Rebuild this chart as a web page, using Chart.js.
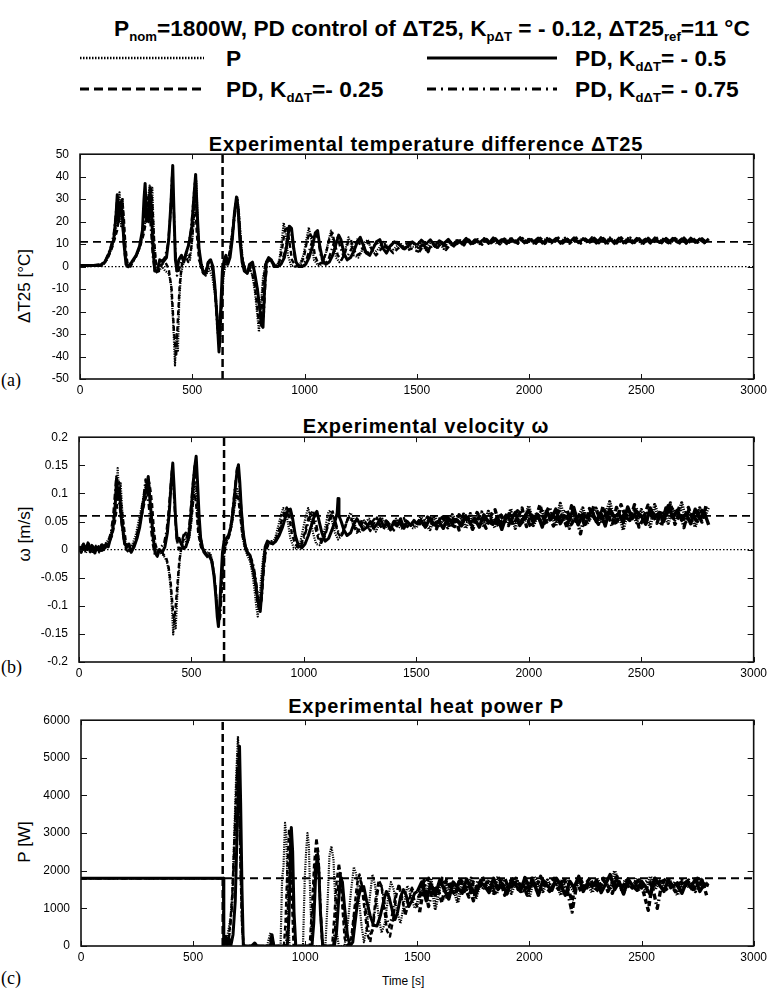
<!DOCTYPE html>
<html>
<head>
<meta charset="utf-8">
<script src="https://cdn.jsdelivr.net/npm/chart.js@4.4.1/dist/chart.umd.min.js"></script>
<style>
  body { margin: 0; background: #fff; width: 771px; height: 992px; overflow: hidden; position: relative; font-family: "Liberation Sans", Arial, sans-serif; color: #000; }
  canvas { position: absolute; left: 0; }
  .abs { position: absolute; white-space: nowrap; }
  .head { font-weight: bold; font-size: 22.7px; line-height: 26px; }
  .head sub { font-size: 58%; vertical-align: -5px; line-height: 0; }
  .ptitle { font-weight: bold; font-size: 20px; line-height: 20px; letter-spacing: 0.8px; left: 126px; width: 600px; text-align: center; }
  .ylab { font-size: 17px; transform: translate(-50%, -50%) rotate(-90deg); }
  .plab { font-family: "Liberation Serif", "Times New Roman", serif; font-size: 18px; }
</style>
</head>
<body>

<div class="abs head" style="left:114px; top:15px">P<sub>nom</sub>=1800W, PD control of ΔT25, K<sub>pΔT</sub> = - 0.12, ΔT25<sub>ref</sub>=11 °C</div>
<svg class="abs" style="left:80px; top:55px" width="124" height="6"><line x1="0" y1="3" x2="124" y2="3" stroke="#000" stroke-width="2.5" stroke-dasharray="1.5 1.5"/></svg>
<div class="abs head" style="left:226px; top:45px">P</div>
<svg class="abs" style="left:427px; top:55px" width="130" height="6"><line x1="0" y1="3" x2="130" y2="3" stroke="#000" stroke-width="3"/></svg>
<div class="abs head" style="left:575px; top:45px">PD, K<sub>dΔT</sub>= - 0.5</div>
<svg class="abs" style="left:80px; top:86px" width="124" height="6"><line x1="0" y1="3" x2="124" y2="3" stroke="#000" stroke-width="3" stroke-dasharray="9 5"/></svg>
<div class="abs head" style="left:226px; top:76px">PD, K<sub>dΔT</sub>=- 0.25</div>
<svg class="abs" style="left:427px; top:86px" width="130" height="6"><line x1="0" y1="3" x2="130" y2="3" stroke="#000" stroke-width="3" stroke-dasharray="9 5 2 5"/></svg>
<div class="abs head" style="left:575px; top:76px">PD, K<sub>dΔT</sub>= - 0.75</div>

<div class="abs ptitle" style="top:134px">Experimental temperature difference ΔT25</div>
<div class="abs ptitle" style="top:416px">Experimental velocity ω</div>
<div class="abs ptitle" style="top:696px">Experimental heat power P</div>

<div class="abs ylab" style="left:25px; top:286px">ΔT25 [°C]</div>
<div class="abs ylab" style="left:25px; top:534px">ω [m/s]</div>
<div class="abs ylab" style="left:25px; top:842px">P [W]</div>

<div class="abs plab" style="left:1px; top:370px">(a)</div>
<div class="abs plab" style="left:1px; top:657px">(b)</div>
<div class="abs plab" style="left:1px; top:968px">(c)</div>
<div class="abs" style="left:382px; top:974px; font-size:12px">Time [s]</div>

<canvas id="chartA" width="771" height="264" style="top:136px"></canvas>
<canvas id="chartB" width="771" height="264" style="top:419px"></canvas>
<canvas id="chartC" width="771" height="265" style="top:702px"></canvas>

<script>
// axes
const xTicks = [0, 500, 1000, 1500, 2000, 2500, 3000];
const aTicks = [-50, -40, -30, -20, -10, 0, 10, 20, 30, 40, 50];
const bTicks = [-0.2, -0.15, -0.1, -0.05, 0, 0.05, 0.1, 0.15, 0.2];
const cTicks = [0, 1000, 2000, 3000, 4000, 5000, 6000];

// reference lines
const aRef = 11, bRef = 0.06, cRef = 1800;
const aSwitch = 635, bSwitch = 645, cSwitch = 632;

// sample times of the settled part (two interleaved grids)
const noiseT = [1500,1520,1540,1560,1580,1600,1620,1640,1660,1680,
  1700,1720,1740,1760,1780,1800,1820,1840,1860,1880,
  1900,1920,1940,1960,1980,2000,2020,2040,2060,2080,
  2100,2120,2140,2160,2180,2200,2220,2240,2260,2280,
  2300,2320,2340,2360,2380,2400,2420,2440,2460,2480,
  2500,2520,2540,2560,2580,2600,2620,2640,2660,2680,
  2700,2720,2740,2760,2780,2800];
const noiseT2 = [1510,1530,1550,1570,1590,1610,1630,1650,1670,1690,
  1710,1730,1750,1770,1790,1810,1830,1850,1870,1890,
  1910,1930,1950,1970,1990,2010,2030,2050,2070,2090,
  2110,2130,2150,2170,2190,2210,2230,2250,2270,2290,
  2310,2330,2350,2370,2390,2410,2430,2450,2470,2490,
  2510,2530,2550,2570,2590,2610,2630,2650,2670,2690,
  2710,2730,2750,2770,2790];

// (a) temperature difference dT25 [°C]
const aP = [[0,0],[100,0.5],[120,3],[140,8],[158,15],[170,25],[176,33],[183,18],[190,30],[198,12],[208,2],[220,0],[240,3],[260,7],[280,14],[295,22],[303,30],[310,36],[316,20],[322,35],[330,10],[340,0],[352,-2],[365,0],[380,-2],[395,-3],[405,-8],[415,-25],[423,-44],[430,-30],[436,-38],[442,-15],[450,-3],[462,2],[475,6],[490,3],[500,12],[510,25],[518,38],[524,20],[532,5],[545,-2],[560,-4],[575,-1],[590,-5],[605,-15],[615,-30],[623,-36],[630,-20],[640,-3],[652,2],[665,5],[678,15],[690,26],[700,31],[708,24],[718,10],[728,0],[742,-3],[755,0],[768,-4],[780,-12],[790,-22],[797,-29],[805,-18],[815,-5],[828,2],[845,3],[860,1],[875,0],[888,3],[898,11],[907,19.5],[916,15],[926,5],[940,0.5],[960,0],[980,1],[995,5],[1008,12],[1019,17.4],[1030,12],[1042,3],[1060,0.5],[1080,1],[1095,6],[1108,12],[1118,16],[1128,11],[1140,4],[1155,2],[1170,4],[1185,9],[1196,13],[1206,10],[1220,5],[1240,4],[1255,7],[1270,11],[1282,12],[1295,8],[1310,6],[1330,8],[1350,11],[1370,9],[1390,7],[1410,9],[1430,10],[1450,8],[1470,9]];
const aD25 = [[0,0],[105,1],[125,4],[145,9],[165,16],[180,26],[188,30],[195,22],[203,8],[212,1],[225,0],[245,4],[265,8],[285,15],[300,24],[308,33],[315,36],[322,28],[330,12],[338,2],[350,-2],[365,1],[380,2],[395,-1],[408,-10],[418,-28],[428,-40],[435,-25],[444,-8],[455,2],[470,5],[482,2],[495,8],[506,20],[513,30],[520,15],[530,3],[545,-1],[558,-3],[570,2],[585,1],[598,-6],[608,-18],[617,-32],[625,-28],[633,-8],[645,3],[660,3],[672,10],[684,20],[694,29],[702,28],[712,14],[724,3],[738,-2],[752,-1],[766,-3],[778,-8],[788,-17],[797,-25],[806,-24],[814,-10],[825,1],[840,3],[858,2],[872,0],[888,2],[900,8],[912,16],[921,18],[931,12],[944,3],[960,0],[980,1],[997,4],[1010,11],[1022,15],[1034,13],[1046,5],[1062,1],[1080,2],[1098,7],[1112,13],[1124,15],[1135,10],[1148,5],[1165,3],[1180,6],[1194,11],[1206,12],[1218,8],[1232,5],[1250,6],[1268,9],[1285,11],[1300,8],[1318,5],[1335,7],[1355,10],[1375,8],[1395,6],[1415,8],[1435,9],[1455,7],[1475,8]];
const aD50 = [[0,0.5],[90,0.5],[110,2],[130,6],[150,12],[160,22],[166,32],[172,20],[180,28],[188,24],[196,10],[205,1],[215,0],[230,2],[250,5],[265,9],[278,16],[285,30],[290,37],[296,22],[305,20],[312,34],[318,26],[325,8],[333,-2],[345,-2],[355,3],[370,2],[385,4],[395,12],[405,28],[413,45],[419,22],[425,3],[432,-2],[440,3],[452,5],[462,2],[472,6],[485,10],[498,18],[508,32],[515,41],[521,26],[530,8],[540,1],[550,-3],[560,-3],[572,2],[582,3],[592,0],[600,-8],[610,-22],[619,-38],[626,-20],[634,-2],[642,3],[650,5],[658,1],[668,4],[678,12],[688,24],[697,31],[704,26],[712,12],[722,2],[732,-2],[745,-3],[755,1],[768,2],[778,-3],[790,-10],[800,-18],[808,-26],[815,-27],[822,-10],[830,2],[840,4],[852,3],[865,0],[880,0],[895,1],[910,4],[922,10],[932,18],[942,17],[952,8],[962,2],[975,0],[990,0],[1005,1],[1020,4],[1035,9],[1048,15],[1058,16],[1068,9],[1080,3],[1095,1],[1110,2],[1125,5],[1140,10],[1152,14],[1162,12],[1175,6],[1190,3],[1205,4],[1220,7],[1235,11],[1248,13],[1260,10],[1275,6],[1290,5],[1305,8],[1320,11],[1335,12],[1350,8],[1365,6],[1380,9],[1400,11],[1420,10],[1440,8],[1460,9],[1480,11]];
const aD75 = [[0,0],[95,1],[115,3],[135,8],[150,14],[160,24],[167,31],[174,26],[182,29],[190,18],[200,5],[210,0],[228,1],[248,4],[268,9],[283,18],[292,33],[298,28],[306,31],[315,18],[325,4],[335,-3],[348,-2],[362,2],[378,4],[392,10],[402,22],[410,40],[416,30],[424,8],[432,-4],[442,-1],[455,3],[468,4],[480,8],[494,16],[504,28],[512,38],[518,30],[527,10],[538,0],[552,-4],[566,-2],[578,3],[590,0],[602,-12],[612,-28],[621,-36],[628,-22],[637,-4],[648,4],[660,3],[672,8],[684,18],[694,27],[701,30],[710,20],[720,6],[735,-2],[750,-2],[763,1],[775,-2],[786,-8],[798,-18],[810,-24],[818,-22],[826,-6],[836,3],[850,3],[866,1],[882,0],[898,2],[914,7],[926,14],[936,17],[946,12],[958,3],[975,0],[992,1],[1008,3],[1024,8],[1040,13],[1052,15],[1062,11],[1074,4],[1090,1],[1106,3],[1122,8],[1136,12],[1148,13],[1158,9],[1172,5],[1188,4],[1204,7],[1220,10],[1234,12],[1246,10],[1262,7],[1280,6],[1298,8],[1316,10],[1334,11],[1352,9],[1372,8],[1392,10],[1412,11],[1432,9],[1452,10],[1475,11]];
const aPNoise = [8.5,10.5,7.5,11,9,10.8,8,11.5,9.5,12,
  10,12.3,10.5,11.8,10.2,12.5,10.8,11.6,10.1,12.2,
  10.6,12.8,10.3,11.9,10.9,12.4,10.4,12.1,11,12.6,
  10.5,12.2,10.8,12.7,10.3,12,11.1,12.5,10.6,12.9,
  10.7,12.3,10.4,12.8,11,12.2,10.5,12.6,10.9,12.1,
  10.4,12.5,10.8,12.2,10.6,12.7,10.3,12.4,10.9,12,
  10.6,12.5,10.8,12.3,10.5,12.1];
const aD25Noise = [6.5,9.5,7,10.5,8,11,7.5,10,8.8,11.5,
  9.5,12,10.2,11.6,9.8,12.2,10.5,11.8,10,12.4,
  10.7,12.1,10.3,12.6,10.8,12,10.5,12.7,10.2,12.3,
  10.9,12.5,10.4,12.2,10.7,12.8,10.3,12.4,10.8,12.1,
  10.5,12.6,10.9,12.3,10.4,12.9,10.7,12.2,10.6,12.5,
  10.3,12.7,10.8,12.2,10.5,12.6,10.9,12.3,10.4,12.8,
  10.6,12.2,10.8,12.5,10.5];
const aD50Noise = [9.5,11.8,10,12,9.2,11.5,10.3,12.2,9.8,11.6,
  10.4,12.6,10.1,12,10.7,12.4,10.3,12.8,10.9,12.1,
  10.2,12.5,10.8,12.9,10.5,12.2,11,12.7,10.4,12.3,
  10.9,12.6,10.3,12.1,10.8,12.8,10.6,12.3,11.1,12.5,
  10.4,12.9,10.7,12.4,10.2,12.7,10.9,12.2,10.5,12.6,
  11,12.3,10.4,12.8,10.7,12.2,10.5,12.6,10.8,12.4,
  10.3,12.7,10.9,12.2,10.6,12.4];
const aD75Noise = [8,10.5,6.5,9.8,8.5,11.2,9,10.6,9.6,11.8,
  10.3,11.5,9.9,12.1,10.4,11.9,10.6,12.5,10.2,12,
  10.8,12.3,10.4,12.6,10.7,12.1,10.3,12.5,10.9,12.2,
  10.5,12.8,10.6,12.3,10.2,12.6,10.9,12.2,10.5,12.7,
  10.8,12.1,10.4,12.5,10.7,12.3,10.5,12.8,10.9,12.2,
  10.6,12.4,10.3,12.7,10.8,12.3,10.5,12.6,10.9,12.1,
  10.4,12.6,10.7,12.3,10.6];

// (b) velocity omega [m/s]
const bP = [[0,0],[15,0.008],[30,-0.006],[45,0.005],[60,-0.004],[75,0.007],[90,-0.005],[105,0.004],[120,0.012],[135,0.02],[150,0.04],[160,0.08],[167,0.1],[172,0.145],[178,0.1],[185,0.12],[192,0.07],[200,0.03],[210,0.005],[222,0],[238,0.01],[252,0.025],[265,0.05],[278,0.075],[290,0.1],[298,0.12],[305,0.1],[312,0.115],[320,0.07],[328,0.035],[336,0.01],[346,0],[360,-0.005],[375,-0.01],[390,-0.02],[400,-0.04],[408,-0.07],[414,-0.11],[419,-0.151],[424,-0.12],[430,-0.14],[436,-0.09],[442,-0.05],[450,-0.01],[460,0.01],[470,0.02],[480,0.01],[490,0.02],[500,0.05],[508,0.09],[515,0.12],[522,0.09],[530,0.04],[540,0.01],[552,-0.002],[565,-0.008],[578,-0.004],[590,-0.015],[600,-0.04],[608,-0.075],[614,-0.1],[620,-0.13],[626,-0.11],[632,-0.06],[640,-0.01],[650,0.01],[662,0.02],[675,0.035],[686,0.06],[695,0.085],[703,0.11],[710,0.1],[718,0.06],[726,0.025],[736,0.005],[748,-0.01],[760,-0.02],[770,-0.04],[780,-0.07],[788,-0.1],[795,-0.119],[802,-0.09],[810,-0.05],[820,-0.01],[832,0.01],[845,0.012],[858,0.01],[872,0.02],[885,0.04],[897,0.06],[908,0.074],[918,0.07],[928,0.05],[940,0.02],[955,0.003],[970,0.002],[985,0.015],[998,0.04],[1010,0.062],[1019,0.074],[1028,0.06],[1040,0.03],[1055,0.01],[1070,0.008],[1085,0.025],[1098,0.045],[1108,0.065],[1116,0.07],[1126,0.05],[1138,0.03],[1152,0.018],[1168,0.025],[1182,0.04],[1194,0.055],[1206,0.065],[1218,0.06],[1230,0.04],[1245,0.03],[1260,0.035],[1275,0.05],[1290,0.055],[1305,0.04],[1320,0.032],[1335,0.045],[1350,0.055],[1365,0.042],[1380,0.035],[1395,0.048],[1410,0.055],[1425,0.04],[1440,0.036],[1455,0.05],[1470,0.045],[1485,0.038]];
const bD25 = [[0,0.006],[12,-0.004],[27,0.009],[42,-0.002],[57,0.008],[72,-0.006],[87,0.006],[102,-0.002],[117,0.008],[132,0.01],[147,0.025],[160,0.05],[170,0.08],[178,0.12],[185,0.09],[192,0.065],[200,0.04],[208,0.015],[218,0],[232,-0.004],[248,0.01],[263,0.03],[278,0.06],[292,0.085],[303,0.1],[312,0.12],[318,0.105],[325,0.08],[332,0.04],[340,0.01],[350,-0.005],[362,0],[375,-0.008],[388,-0.015],[398,-0.03],[408,-0.06],[416,-0.1],[423,-0.13],[430,-0.1],[438,-0.06],[446,-0.02],[456,0.005],[466,0.025],[475,0.03],[486,0.015],[496,0.04],[506,0.08],[514,0.1],[521,0.08],[530,0.03],[542,0.005],[555,-0.005],[568,-0.01],[580,-0.008],[592,-0.025],[602,-0.05],[610,-0.085],[617,-0.115],[624,-0.12],[631,-0.08],[639,-0.03],[648,0.005],[660,0.015],[672,0.03],[683,0.055],[693,0.085],[701,0.1],[709,0.09],[717,0.06],[727,0.025],[738,0.005],[750,-0.008],[762,-0.015],[773,-0.035],[783,-0.06],[792,-0.09],[800,-0.105],[808,-0.09],[816,-0.05],[825,-0.015],[836,0.005],[848,0.012],[862,0.01],[876,0.02],[890,0.035],[903,0.055],[914,0.068],[924,0.075],[934,0.06],[946,0.03],[960,0.01],[975,0.004],[990,0.012],[1004,0.03],[1016,0.05],[1027,0.065],[1038,0.06],[1050,0.04],[1064,0.02],[1078,0.012],[1092,0.025],[1106,0.045],[1118,0.06],[1128,0.068],[1138,0.05],[1150,0.03],[1165,0.022],[1180,0.035],[1195,0.055],[1208,0.06],[1220,0.045],[1235,0.03],[1250,0.038],[1265,0.052],[1280,0.045],[1295,0.033],[1310,0.045],[1325,0.057],[1340,0.042],[1355,0.036],[1370,0.05],[1385,0.044],[1400,0.034],[1415,0.05],[1430,0.045],[1445,0.056],[1460,0.04],[1475,0.048],[1490,0.042]];
const bD50 = [[0,0.005],[10,-0.005],[20,0.01],[30,0],[40,0.012],[50,-0.004],[60,0.006],[70,-0.006],[80,0.004],[90,-0.003],[100,0.008],[110,0],[120,0.01],[130,0.005],[140,0.02],[150,0.035],[160,0.07],[167,0.127],[173,0.09],[180,0.11],[187,0.06],[195,0.035],[203,0.01],[212,0.005],[222,0.01],[232,-0.005],[245,0.005],[258,0.02],[270,0.04],[282,0.07],[292,0.1],[300,0.11],[308,0.13],[315,0.09],[322,0.06],[330,0.02],[338,-0.005],[348,-0.012],[358,0],[370,-0.005],[382,0.005],[393,0.03],[402,0.07],[410,0.12],[417,0.154],[423,0.11],[430,0.05],[437,0.015],[445,0.02],[455,0.01],[465,0.002],[475,0.005],[487,0.02],[497,0.06],[506,0.11],[514,0.145],[521,0.166],[527,0.12],[534,0.06],[541,0.02],[550,0.002],[560,-0.005],[570,-0.01],[580,-0.012],[590,-0.02],[600,-0.045],[608,-0.08],[615,-0.12],[620,-0.137],[626,-0.1],[632,-0.05],[638,-0.005],[645,0.015],[655,0.02],[665,0.025],[675,0.04],[685,0.07],[695,0.11],[703,0.14],[709,0.151],[715,0.12],[722,0.07],[730,0.03],[740,0.005],[750,-0.005],[760,-0.01],[772,-0.03],[782,-0.05],[792,-0.08],[800,-0.1],[806,-0.11],[812,-0.08],[820,-0.03],[828,0.005],[838,0.015],[850,0.012],[862,0.01],[875,0.015],[890,0.025],[905,0.04],[918,0.058],[930,0.07],[940,0.072],[950,0.055],[962,0.025],[975,0.008],[990,0.003],[1005,0.01],[1020,0.025],[1035,0.045],[1048,0.062],[1058,0.068],[1068,0.05],[1080,0.03],[1095,0.015],[1110,0.02],[1125,0.035],[1138,0.05],[1148,0.065],[1152,0.091],[1156,0.06],[1166,0.05],[1178,0.035],[1192,0.025],[1208,0.03],[1222,0.045],[1236,0.055],[1250,0.045],[1265,0.035],[1280,0.04],[1295,0.05],[1310,0.038],[1325,0.045],[1340,0.055],[1355,0.04],[1370,0.048],[1385,0.035],[1400,0.05],[1415,0.042],[1430,0.055],[1445,0.038],[1460,0.05],[1475,0.043],[1490,0.052]];
const bD75 = [[0,-0.003],[14,0.007],[28,0.001],[44,0.01],[58,-0.003],[73,0.005],[88,0.001],[103,0.009],[118,0.003],[130,0.015],[142,0.03],[152,0.06],[160,0.1],[166,0.13],[172,0.1],[180,0.08],[190,0.045],[200,0.015],[210,0],[225,-0.006],[240,0.005],[254,0.02],[268,0.045],[280,0.075],[289,0.1],[296,0.125],[302,0.105],[310,0.08],[318,0.045],[328,0.01],[338,-0.01],[350,-0.006],[364,0.005],[378,0.01],[390,0.035],[400,0.075],[407,0.11],[413,0.14],[419,0.12],[426,0.07],[434,0.02],[444,0],[456,0.012],[468,0.03],[478,0.02],[490,0.04],[500,0.085],[508,0.125],[515,0.15],[522,0.12],[530,0.07],[538,0.03],[548,0.005],[560,-0.008],[574,-0.015],[586,-0.01],[596,-0.03],[606,-0.065],[614,-0.105],[621,-0.13],[628,-0.12],[635,-0.07],[643,-0.02],[652,0.01],[664,0.022],[676,0.045],[687,0.085],[696,0.12],[703,0.145],[711,0.13],[719,0.085],[728,0.04],[738,0.01],[750,-0.006],[762,-0.012],[774,-0.025],[785,-0.05],[795,-0.08],[804,-0.1],[812,-0.09],[820,-0.045],[830,-0.005],[842,0.01],[856,0.015],[870,0.012],[884,0.022],[898,0.04],[912,0.06],[923,0.07],[934,0.076],[944,0.06],[956,0.03],[970,0.01],[986,0.005],[1000,0.02],[1014,0.04],[1028,0.06],[1040,0.07],[1050,0.055],[1062,0.03],[1076,0.015],[1090,0.02],[1104,0.038],[1118,0.055],[1130,0.062],[1140,0.05],[1154,0.03],[1170,0.028],[1186,0.045],[1200,0.058],[1214,0.05],[1228,0.035],[1244,0.04],[1260,0.055],[1275,0.048],[1290,0.036],[1305,0.05],[1320,0.058],[1335,0.044],[1350,0.038],[1365,0.052],[1380,0.046],[1395,0.04],[1410,0.055],[1425,0.048],[1440,0.038],[1455,0.052],[1470,0.044],[1488,0.05]];
const bPNoise = [0.040,0.058,0.045,0.036,0.060,0.043,0.054,0.039,0.062,0.048,
  0.055,0.038,0.064,0.046,0.058,0.041,0.068,0.052,0.044,0.060,
  0.047,0.072,0.038,0.063,0.050,0.078,0.043,0.059,0.071,0.049,
  0.064,0.042,0.082,0.053,0.038,0.069,0.058,0.074,0.046,0.061,
  0.073,0.047,0.060,0.085,0.052,0.066,0.035,0.070,0.062,0.048,
  0.071,0.058,0.041,0.080,0.053,0.063,0.047,0.072,0.060,0.083,
  0.050,0.066,0.040,0.074,0.058,0.076];
const bD25Noise = [0.052,0.041,0.058,0.047,0.037,0.061,0.050,0.044,0.059,0.035,
  0.063,0.049,0.042,0.066,0.053,0.038,0.060,0.071,0.045,0.056,
  0.067,0.044,0.057,0.074,0.041,0.062,0.054,0.080,0.047,0.058,
  0.042,0.069,0.061,0.039,0.078,0.050,0.066,0.040,0.073,0.057,
  0.045,0.077,0.054,0.063,0.044,0.080,0.059,0.051,0.072,0.040,
  0.055,0.079,0.064,0.047,0.070,0.058,0.083,0.045,0.063,0.054,
  0.075,0.052,0.068,0.049,0.081];
const bD50Noise = [0.046,0.052,0.040,0.055,0.044,0.050,0.038,0.057,0.047,0.053,
  0.042,0.060,0.048,0.055,0.040,0.062,0.050,0.045,0.058,0.036,
  0.060,0.052,0.066,0.043,0.058,0.070,0.048,0.062,0.040,0.068,
  0.055,0.072,0.046,0.060,0.052,0.075,0.044,0.063,0.057,0.070,
  0.050,0.066,0.042,0.072,0.058,0.064,0.048,0.076,0.055,0.068,
  0.060,0.045,0.074,0.056,0.066,0.050,0.078,0.058,0.070,0.052,
  0.064,0.046,0.072,0.055,0.067,0.044];
const bD75Noise = [0.044,0.055,0.049,0.060,0.042,0.048,0.058,0.046,0.041,0.062,
  0.050,0.057,0.036,0.052,0.067,0.047,0.055,0.039,0.065,0.051,
  0.043,0.060,0.069,0.048,0.056,0.040,0.066,0.052,0.061,0.076,
  0.058,0.050,0.064,0.071,0.045,0.060,0.028,0.067,0.054,0.079,
  0.062,0.053,0.070,0.041,0.075,0.057,0.064,0.052,0.080,0.061,
  0.047,0.068,0.057,0.066,0.042,0.074,0.061,0.053,0.076,0.039,
  0.069,0.061,0.050,0.070,0.063];

// (c) heat power P [W]
const cP = [[0,1800],[636,1800],[637,0],[650,200],[660,500],[668,800],[676,1500],[684,3000],[692,4500],[700,5575],[706,4800],[712,2500],[718,800],[724,0],[830,0],[838,200],[845,350],[852,150],[860,0],[890,0],[897,1800],[903,2100],[910,3270],[916,2900],[922,1200],[930,0],[990,0],[998,1800],[1004,2500],[1010,3000],[1016,2700],[1024,1000],[1032,0],[1090,0],[1100,1200],[1108,2400],[1117,2650],[1126,2300],[1134,1200],[1142,300],[1150,0],[1175,0],[1190,600],[1205,1500],[1217,2100],[1228,1900],[1240,1200],[1252,500],[1262,100],[1275,500],[1288,1300],[1300,1900],[1312,1600],[1325,900],[1340,350],[1355,600],[1370,1300],[1382,1700],[1395,1500],[1410,900],[1425,600],[1440,1100],[1455,1600],[1470,1400],[1488,1000]];
const cD25 = [[0,1800],[636,1800],[637,0],[648,300],[656,100],[666,600],[675,1400],[684,2800],[692,4000],[699,5100],[705,4400],[712,2000],[719,500],[726,0],[840,0],[848,250],[856,80],[864,0],[905,0],[912,600],[920,2000],[928,3100],[934,2800],[941,1200],[948,0],[1020,0],[1030,1000],[1040,2200],[1050,2870],[1058,2500],[1066,1200],[1074,200],[1082,0],[1120,0],[1130,800],[1140,1700],[1150,2200],[1158,1900],[1166,1000],[1176,200],[1188,0],[1205,200],[1218,900],[1230,1600],[1242,1900],[1254,1500],[1266,900],[1278,300],[1290,100],[1302,600],[1315,1300],[1328,1750],[1340,1600],[1352,1000],[1365,400],[1378,250],[1392,700],[1405,1300],[1418,1650],[1432,1300],[1446,800],[1460,1100],[1474,1500],[1488,1200]];
const cD50 = [[0,1800],[636,1800],[637,0],[645,250],[652,0],[660,200],[668,0],[678,300],[688,1200],[696,3000],[703,4500],[707,5310],[712,3800],[718,1500],[724,0],[760,0],[775,80],[785,0],[845,0],[852,300],[860,0],[920,0],[928,800],[934,2500],[938,3150],[944,2500],[950,900],[958,0],[1030,0],[1038,600],[1046,1800],[1053,2390],[1060,2100],[1068,900],[1078,0],[1130,0],[1140,400],[1150,1300],[1158,1800],[1166,1700],[1176,1000],[1188,300],[1200,0],[1212,100],[1222,600],[1234,1200],[1248,1550],[1261,1580],[1274,1200],[1290,800],[1305,550],[1320,530],[1335,800],[1350,1200],[1362,1450],[1374,1300],[1388,950],[1400,700],[1412,900],[1425,1300],[1438,1500],[1450,1350],[1462,1050],[1475,1200],[1488,1400]];
const cD75 = [[0,1800],[636,1800],[637,0],[646,150],[655,0],[664,400],[674,1100],[683,2400],[691,3800],[698,4800],[704,4300],[711,2200],[718,600],[725,0],[845,0],[853,200],[861,0],[915,0],[922,900],[930,2300],[936,2900],[942,2000],[950,500],[957,0],[1025,0],[1034,900],[1043,2000],[1052,2600],[1060,2300],[1068,1000],[1078,0],[1125,0],[1135,600],[1145,1500],[1155,2000],[1163,1800],[1172,900],[1184,100],[1196,0],[1210,300],[1222,1000],[1236,1500],[1250,1700],[1262,1300],[1275,700],[1288,300],[1300,400],[1312,1000],[1325,1500],[1338,1650],[1350,1300],[1362,800],[1375,500],[1390,900],[1404,1400],[1418,1600],[1432,1200],[1446,900],[1462,1300],[1476,1550],[1490,1350]];
const cPNoise = [1100,1650,1400,1800,1000,1550,1750,1300,1600,1150,
  1700,1500,1800,1250,1650,1550,1750,1400,1850,1550,
  1650,1400,1800,1550,1700,1300,1850,1600,1450,1750,
  1550,1700,1350,1800,1600,1450,1780,1550,1650,1420,
  1800,1600,1700,1500,2000,1650,1400,1750,1550,1800,
  1600,1450,1850,1500,1700,1550,1800,1600,1350,1750,
  1550,1700,1450,1800,1600,1700];
const cD25Noise = [900,1600,1800,1350,1550,1150,1750,1500,1350,1800,
  1600,1300,1700,1550,1850,1450,1650,1500,1750,1350,
  1700,1800,1500,1650,1350,1750,1550,1850,1600,1450,
  1650,1500,1800,1550,1200,1700,1450,1650,1800,1550,
  1450,1750,1600,1400,1850,1550,1700,1500,1650,1750,
  1400,950,1700,1600,1800,1500,1650,1450,1750,1600,
  1700,1450,1800,1550,1650];
const cD50Noise = [1450,1700,1200,1650,1350,1750,1500,1250,1700,1550,
  1400,1780,1550,1350,1700,1600,1420,1800,1500,1650,
  1380,1750,1600,1450,1820,1550,1680,1350,1750,1600,
  1480,1800,1620,1350,1720,1550,1850,1450,1680,1580,
  1750,1420,1650,1900,1500,1700,1380,1780,1600,1480,
  1720,1560,1350,1800,1620,1450,1750,1580,1680,1400,
  1700,1550,1780,1450,1650,1600];
const cD75Noise = [1300,1750,1050,1600,1450,1800,1250,1650,1500,1750,
  1450,1650,1200,1750,1500,1700,1600,1350,1650,1800,
  1500,1650,1750,1400,1600,1800,1500,1400,1700,1650,
  1800,1550,1650,1450,900,1600,1750,1500,1700,1650,
  1550,1800,1450,1650,1750,1500,1800,1600,1700,1450,
  1650,1750,1550,1000,1650,1800,1550,1700,1500,1650,
  1750,1500,1650,1750,1350];

const tickFont = { family: "'Liberation Sans', Arial, sans-serif", size: 12 };

const styleP   = { borderDash: [1.2, 1.2], borderWidth: 2.2, order: 4 };
const styleD25 = { borderDash: [5, 3], borderWidth: 2.4, order: 3 };
const styleD50 = { borderDash: [], borderWidth: 3, order: 1 };
const styleD75 = { borderDash: [6, 3, 1.5, 3], borderWidth: 2.4, order: 2 };

function joinSeries(trans, tailT, tailV) {
  const pts = trans.map(([x, y]) => ({ x, y }));
  tailT.forEach((x, i) => pts.push({ x, y: tailV[i] }));
  return pts;
}

function refLine(pts, dash, width) {
  return { data: pts, borderDash: dash, borderWidth: width, order: 0 };
}

// closed frame with inward tick marks on all four sides
const frameTicks = {
  id: "frameTicks",
  afterDraw(chart) {
    const { ctx, chartArea: a, scales: { x, y } } = chart;
    ctx.save();
    ctx.strokeStyle = "#111";
    ctx.lineWidth = 1.6;
    ctx.strokeRect(a.left, a.top, a.right - a.left, a.bottom - a.top);
    ctx.lineWidth = 1;
    ctx.beginPath();
    x.ticks.forEach(t => {
      const px = Math.round(x.getPixelForValue(t.value)) + 0.5;
      ctx.moveTo(px, a.bottom); ctx.lineTo(px, a.bottom - 5);
      ctx.moveTo(px, a.top); ctx.lineTo(px, a.top + 5);
    });
    y.ticks.forEach(t => {
      const py = Math.round(y.getPixelForValue(t.value)) + 0.5;
      ctx.moveTo(a.left, py); ctx.lineTo(a.left + 6, py);
      ctx.moveTo(a.right, py); ctx.lineTo(a.right - 6, py);
    });
    ctx.stroke();
    ctx.restore();
  }
};

function drawPanel(id, p) {
  // the settled part is drawn a little heavier, like the dense band of samples
  const heavy = { segment: { borderWidth: c => (c.p0.parsed.x >= 1500 ? p.bandWidth : undefined) } };
  const datasets = [
    { data: p.d50, ...styleD50, ...heavy },
    { data: p.d75, ...styleD75, ...heavy },
    { data: p.d25, ...styleD25, ...heavy },
    { data: p.p, ...styleP, ...heavy },
    ...p.refs
  ].map(d => ({ borderColor: "#000", pointRadius: 0, fill: false, tension: 0, borderJoinStyle: "round", ...d }));

  new Chart(document.getElementById(id), {
    type: "line",
    data: { datasets },
    options: {
      responsive: false,
      animation: false,
      devicePixelRatio: 1,
      layout: { padding: { top: 8, right: p.right, left: 0, bottom: 0 } },
      plugins: { legend: { display: false }, tooltip: { enabled: false } },
      scales: {
        x: {
          type: "linear", min: 0, max: 3000,
          grid: { display: false, drawTicks: false },
          border: { display: false },
          afterBuildTicks: s => { s.ticks = xTicks.map(v => ({ value: v })); },
          afterFit: s => { s.height = 21; },
          ticks: { padding: 4, color: "#000", font: tickFont, maxRotation: 0, autoSkip: false,
                   callback: v => String(v) }
        },
        y: {
          type: "linear", min: p.ticks[0], max: p.ticks[p.ticks.length - 1],
          grid: { display: false, drawTicks: false },
          border: { display: false },
          afterBuildTicks: s => { s.ticks = p.ticks.map(v => ({ value: v })); },
          afterFit: s => { s.width = p.left; },
          ticks: { padding: 11, color: "#000", font: tickFont, autoSkip: false,
                   callback: v => String(+v.toFixed(2)) }
        }
      }
    },
    plugins: [frameTicks]
  });
}

drawPanel("chartA", {
  ticks: aTicks, left: 80, right: 14, bandWidth: 2.8,
  p: joinSeries(aP, noiseT, aPNoise),
  d25: joinSeries(aD25, noiseT2, aD25Noise),
  d50: joinSeries(aD50, noiseT, aD50Noise),
  d75: joinSeries(aD75, noiseT2, aD75Noise),
  refs: [
    refLine([{ x: 0, y: aRef }, { x: 3000, y: aRef }], [8, 5], 1.8),
    refLine([{ x: 0, y: 0 }, { x: 3000, y: 0 }], [1.5, 2], 1.4),
    refLine([{ x: aSwitch, y: -50 }, { x: aSwitch, y: 50 }], [8, 4], 2.5)
  ]
});

drawPanel("chartB", {
  ticks: bTicks, left: 79, right: 14, bandWidth: 3.4,
  p: joinSeries(bP, noiseT, bPNoise),
  d25: joinSeries(bD25, noiseT2, bD25Noise),
  d50: joinSeries(bD50, noiseT, bD50Noise),
  d75: joinSeries(bD75, noiseT2, bD75Noise),
  refs: [
    refLine([{ x: 0, y: bRef }, { x: 3000, y: bRef }], [8, 5], 1.8),
    refLine([{ x: 0, y: 0 }, { x: 3000, y: 0 }], [1.5, 2], 1.4),
    refLine([{ x: bSwitch, y: -0.2 }, { x: bSwitch, y: 0.2 }], [8, 4], 2.5)
  ]
});

drawPanel("chartC", {
  ticks: cTicks, left: 81, right: 13, bandWidth: 3.4,
  p: joinSeries(cP, noiseT, cPNoise),
  d25: joinSeries(cD25, noiseT2, cD25Noise),
  d50: joinSeries(cD50, noiseT, cD50Noise),
  d75: joinSeries(cD75, noiseT2, cD75Noise),
  refs: [
    refLine([{ x: 0, y: cRef }, { x: 3000, y: cRef }], [8, 5], 1.8),
    refLine([{ x: cSwitch, y: 0 }, { x: cSwitch, y: 6000 }], [8, 4], 2.5)
  ]
});
</script>
</body>
</html>
